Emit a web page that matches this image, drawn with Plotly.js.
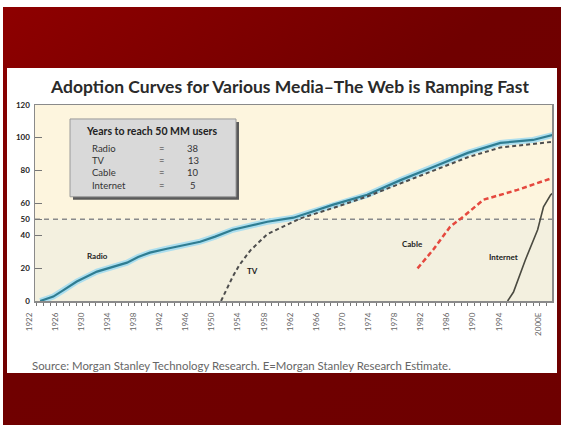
<!DOCTYPE html>
<html><head><meta charset="utf-8">
<script src="https://cdn.plot.ly/plotly-3.0.1.min.js"></script>
<style>
html,body{margin:0;padding:0;width:561px;height:425px;overflow:hidden;background:#fff;}
#bg{position:absolute;left:3px;top:7px;width:558px;height:418px;background:linear-gradient(to bottom right,#8e0000 0%,#700000 45%,#6e0000 100%);}
#panel{position:absolute;left:7px;top:68px;width:550px;height:305px;background:#fff;}
#chart{position:absolute;left:0;top:0;width:561px;height:425px;}
</style></head><body>
<div id="bg"></div><div id="panel"></div><div id="chart"></div>
<script>
// ---- data ----
const radioYears  = [1922.5,1924.5,1926,1928.1,1931.2,1933.7,1935.8,1937.5,1939.3,1941.9,1945,1947,1949.3,1952,1957.3,1961.3,1964,1967.4,1972.6,1977.7,1982.7,1988,1993,1998,2001];
const radioValues = [0,2.7,6.5,11.9,18,21,23.5,27,29.6,32,34.5,36.3,39.4,43.6,48.5,51,54.5,59,65,74,82,90.7,96.8,98.6,101.6];
const tvYears  = [1950.2,1951,1952,1953,1954.7,1957.3,1959.8,1962.3,1967.4,1972.6,1977.7,1982.7,1988,1993,1998,2001];
const tvValues = [0,7,15,22,31,41,46,50.5,57,64,72,80,88,94,96,97.5];
const cableYears  = [1980.3,1982.7,1985.3,1987.3,1990.4,1995.6,2001];
const cableValues = [20,31.4,45.5,51.6,62,68,75.4];
const internetYears  = [1994.1,1995,1996.8,1998.7,1999.6,2000.7,2001];
const internetValues = [0,5.5,25,43.6,57.7,65,66];
const thresholdValue = 50;
const xTickYears  = [1922,1926,1930,1934,1938,1942,1946,1950,1954,1958,1962,1966,1970,1974,1978,1982,1986,1990,1994,2000];
const xTickLabels = ['1922','1926','1930','1934','1938','1942','1946','1950','1954','1958','1962','1966','1970','1974','1978','1982','1986','1990','1994','2000E'];
const yTickValues = [0,20,40,50,60,80,100,120];
const insetNames  = ['Radio','TV','Cable','Internet'];
const insetYears  = ['38','13','10','5'];
const seriesLabels = ['Radio','TV','Cable','Internet'];

// ---- layout helpers (pixel -> paper) ----
const L=35, R=552, T=105, B=301.5;
const px = x => (x-L)/(R-L);
const py = y => (B-y)/(B-T);
const XR=[1921.7,2000.9], YR=[0,120];

const traces = [
  {x:radioYears,y:radioValues,mode:'lines',line:{color:'#acdeee',width:6},hoverinfo:'skip'},
  {x:radioYears,y:radioValues,mode:'lines',line:{color:'#2f7d92',width:2.2},name:seriesLabels[0]},
  {x:tvYears,y:tvValues,mode:'lines',line:{color:'#4d4d4d',width:2,dash:'4px,3px'},name:seriesLabels[1]},
  {x:cableYears,y:cableValues,mode:'lines',line:{color:'#e5483e',width:2.5,dash:'5px,3px'},name:seriesLabels[2]},
  {x:internetYears,y:internetValues,mode:'lines',line:{color:'#4a4a40',width:1.6},name:seriesLabels[3]}
];

const FAM='Lato, sans-serif';
const lblFont = {size:8,color:'#222',family:FAM};
const annotations = [
  {x:1931.3,y:27.8,text:'<b>'+seriesLabels[0]+'</b>',showarrow:false,font:lblFont,xanchor:'center',yanchor:'middle'},
  {x:1955,y:18.6,text:'<b>'+seriesLabels[1]+'</b>',showarrow:false,font:lblFont,xanchor:'center',yanchor:'middle'},
  {x:1979.6,y:35,text:'<b>'+seriesLabels[2]+'</b>',showarrow:false,font:lblFont,xanchor:'center',yanchor:'middle'},
  {x:1993.4,y:27.2,text:'<b>'+seriesLabels[3]+'</b>',showarrow:false,font:lblFont,xanchor:'center',yanchor:'middle'},
  {xref:'paper',yref:'paper',x:px(151),y:py(131),xanchor:'center',yanchor:'middle',text:'<b>Years to reach 50 MM users</b>',showarrow:false,font:{size:10.5,color:'#222',family:FAM}},
  {xref:'paper',yref:'paper',x:px(30),y:py(366),xanchor:'left',yanchor:'middle',text:'Source: Morgan Stanley Technology Research. E=Morgan Stanley Research Estimate.',showarrow:false,font:{size:11.4,color:'#666',family:FAM}}
];
const rowY=[149,161,173,186];
const rowFont={size:9.5,color:'#333',family:FAM};
insetNames.forEach((n,i)=>{
  annotations.push({xref:'paper',yref:'paper',x:px(90),y:py(rowY[i]),xanchor:'left',yanchor:'middle',text:n,showarrow:false,font:rowFont});
  annotations.push({xref:'paper',yref:'paper',x:px(162),y:py(rowY[i]),xanchor:'center',yanchor:'middle',text:'=',showarrow:false,font:rowFont});
  annotations.push({xref:'paper',yref:'paper',x:px(193),y:py(rowY[i]),xanchor:'center',yanchor:'middle',text:insetYears[i],showarrow:false,font:rowFont});
});

const shapes = [
  {type:'rect',xref:'paper',yref:'y',x0:0,x1:1,y0:thresholdValue,y1:120,fillcolor:'#fdf5de',line:{width:0},layer:'below'},
  {type:'rect',xref:'paper',yref:'y',x0:0,x1:1,y0:0,y1:thresholdValue,fillcolor:'#f3f0df',line:{width:0},layer:'below'},
  {type:'line',xref:'paper',yref:'y',x0:0,x1:1,y0:thresholdValue,y1:thresholdValue,line:{color:'#8a8a8a',width:1.5,dash:'5px,4px'},layer:'below'},
  {type:'rect',xref:'paper',yref:'paper',x0:px(73),x1:px(239),y0:py(200),y1:py(122),fillcolor:'#5a5a5a',line:{width:0}},
  {type:'rect',xref:'paper',yref:'paper',x0:px(70),x1:px(236),y0:py(197),y1:py(119),fillcolor:'#d9d9d9',line:{color:'#9a9a9a',width:1}}
];

const layout = {
  width:561,height:425,
  margin:{l:L,r:561-R,t:T,b:425-B},
  paper_bgcolor:'rgba(0,0,0,0)',plot_bgcolor:'rgba(0,0,0,0)',
  showlegend:false,
  font:{family:FAM},
  title:{text:'<b>Adoption Curves for Various Media–The Web is Ramping Fast</b>',
         font:{size:17.5,color:'#2a2a2a',family:FAM},
         x:0.517,xanchor:'center',y:1-87/425,yanchor:'middle'},
  xaxis:{range:XR,tickmode:'array',tickvals:xTickYears,ticktext:xTickLabels,tickangle:-90,
         ticks:'outside',ticklen:3,tickcolor:'#777',tickfont:{size:8,color:'#666'},
         ticklabelshift:-8,ticklabelstandoff:4,
         showline:true,linecolor:'#8a8a8a',linewidth:1.5,mirror:true,showgrid:false,zeroline:false,
         minor:{tickmode:'linear',tick0:1922,dtick:1,ticks:'outside',ticklen:3,tickcolor:'#777'}},
  xaxis2:{overlaying:'x',anchor:'y',range:XR,tickmode:'linear',tick0:1922,dtick:1,ticks:'inside',ticklen:3,tickcolor:'#777',
          showticklabels:false,showline:false,showgrid:false,zeroline:false},
  yaxis:{range:YR,tickmode:'array',tickvals:yTickValues,ticks:'inside',ticklen:7,tickcolor:'#777',
         tickfont:{size:8,color:'#222',weight:'bold'},ticklabelstandoff:2,
         showline:true,linecolor:'#8a8a8a',linewidth:1.5,mirror:true,showgrid:false,zeroline:false},
  yaxis2:{overlaying:'y',anchor:'x',side:'left',range:YR,tickmode:'array',tickvals:yTickValues,ticks:'outside',ticklen:3,tickcolor:'#777',
          showticklabels:false,showline:false,showgrid:false,zeroline:false},
  shapes:shapes,annotations:annotations
};
Plotly.newPlot('chart',traces,layout,{displayModeBar:false,staticPlot:true});
</script></body></html>
